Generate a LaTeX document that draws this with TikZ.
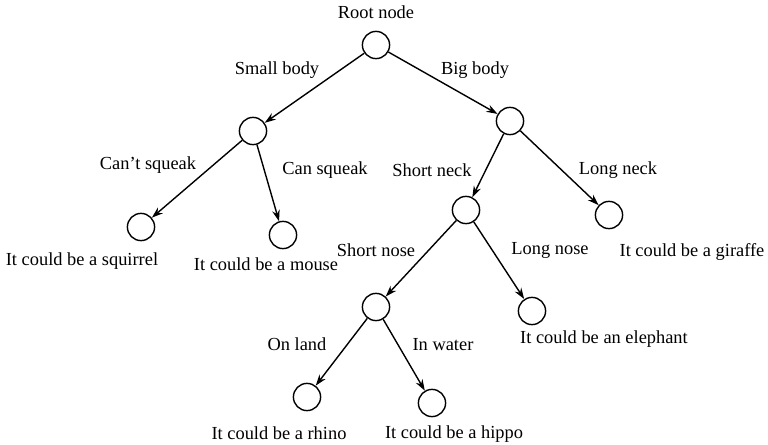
\documentclass[tikz,border=0pt]{standalone}
\usepackage{fontspec}
\setmainfont{Liberation Serif}
\usetikzlibrary{arrows.meta, positioning}

\begin{document}
\begin{tikzpicture}[
    x=0.5pt, y=-0.5pt,
    dnode/.style={circle, draw, line width=0.7pt, minimum size=13.6pt, inner sep=0pt},
    arr/.style={-{Stealth[length=5.6pt, width=3.8pt]}, line width=0.7pt},
    lbl/.style={font=\fontsize{9.2}{11}\selectfont, inner sep=0pt}
]
\useasboundingbox (0,0) rectangle (768,445);

% decision nodes
\node[dnode] (root) at (376,45) {};
\node[dnode] (small) at (253,131) {};
\node[dnode] (big) at (510,121) {};
\node[dnode] (squirrel) at (141,227) {};
\node[dnode] (mouse) at (283,235) {};
\node[dnode] (neck) at (466,210) {};
\node[dnode] (giraffe) at (609,215) {};
\node[dnode] (nose) at (376,307) {};
\node[dnode] (elephant) at (532,311) {};
\node[dnode] (rhino) at (307,397) {};
\node[dnode] (hippo) at (432,403) {};

% texts
\node[lbl, above=6pt of root] (troot) {Root node};
\node[lbl] (tsmall) at (277,70) {Small body};
\node[lbl] (tbig) at (475,70) {Big body};
\node[lbl] (tcant) at (148,165) {Can't squeak};
\node[lbl] (tcan) at (325,170) {Can squeak};
\node[lbl] (tshneck) at (432,170) {Short neck};
\node[lbl] (tlgneck) at (618,170) {Long neck};
\node[lbl] (tsquirrel) at (82,261) {It could be a squirrel};
\node[lbl] (tmouse) at (266,264) {It could be a mouse};
\node[lbl] (tgiraffe) at (692,252) {It could be a giraffe};
\node[lbl] (tshnose) at (376,250) {Short nose};
\node[lbl] (tlgnose) at (550,250) {Long nose};
\node[lbl] (telephant) at (604,339) {It could be an elephant};
\node[lbl] (tland) at (297,344) {On land};
\node[lbl] (twater) at (443,345) {In water};
\node[lbl] (trhino) at (279,433) {It could be a rhino};
\node[lbl] (thippo) at (454,434) {It could be a hippo};

% branches
\draw[arr] (root) -- (small);
\draw[arr] (root) -- (big);
\draw[arr] (small) -- (squirrel);
\draw[arr] (small) -- (mouse);
\draw[arr] (big) -- (neck);
\draw[arr] (big) -- (giraffe);
\draw[arr] (neck) -- (nose);
\draw[arr] (neck) -- (elephant);
\draw[arr] (nose) -- (rhino);
\draw[arr] (nose) -- (hippo);
\end{tikzpicture}
\end{document}
